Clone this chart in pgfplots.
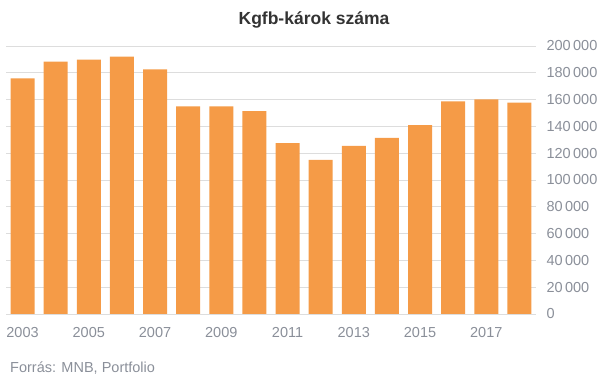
\documentclass[border=0pt]{standalone}
\usepackage{pgfplots}
\pgfplotsset{compat=1.18}
\usepackage{fontspec}
\setmainfont{Liberation Sans}
\definecolor{barc}{RGB}{245,155,71}
\definecolor{gridc}{RGB}{221,221,221}
\definecolor{labc}{RGB}{138,143,153}
\definecolor{titc}{RGB}{51,51,51}
\begin{document}
\begin{tikzpicture}[x=1pt,y=1pt]
\useasboundingbox (0,0) rectangle (606,379);
\begin{axis}[
  at={(6pt,65pt)}, anchor=south west,
  scale only axis, width=530pt, height=268pt,
  xmin=-0.5, xmax=15.5, ymin=0, ymax=200000,
  ybar, bar width=24pt,
  axis line style={draw=none},
  tick style={draw=none},
  ymajorgrids, grid style={gridc, line width=0.8pt},
  xtick={0,2,...,14},
  xticklabels={2003,2005,2007,2009,2011,2013,2015,2017},
  ytick={0,20000,...,200000},
  yticklabel pos=right,
  scaled y ticks=false,
  /pgf/number format/.cd, fixed, precision=0, 1000 sep={\,}, assume math mode=true,
  /pgfplots/.cd,
  ticklabel style={font=\fontsize{14.5}{15}\selectfont, text=labc},
  yticklabel style={anchor=west, xshift=7pt},
  xticklabel style={yshift=-6pt},
]
\addplot[fill=barc, draw=none] coordinates {
(0,175800) (1,188400) (2,189900) (3,192100) (4,182500)
(5,155000) (6,155000) (7,151400) (8,127600) (9,115000)
(10,125400) (11,131400) (12,141000) (13,158700) (14,160200) (15,157800)
};
\draw[gray!80, line width=0.8pt] (axis cs:-0.5,0) -- (axis cs:15.5,0);
\end{axis}
\node[font=\bfseries\fontsize{17.5}{19}\selectfont, text=titc] at (314,359) {Kgfb-károk száma};
\node[anchor=west, font=\fontsize{14.5}{15}\selectfont, text=labc, inner sep=0pt] at (10,11) {Forrás: MNB, Portfolio};
\end{tikzpicture}
\end{document}
